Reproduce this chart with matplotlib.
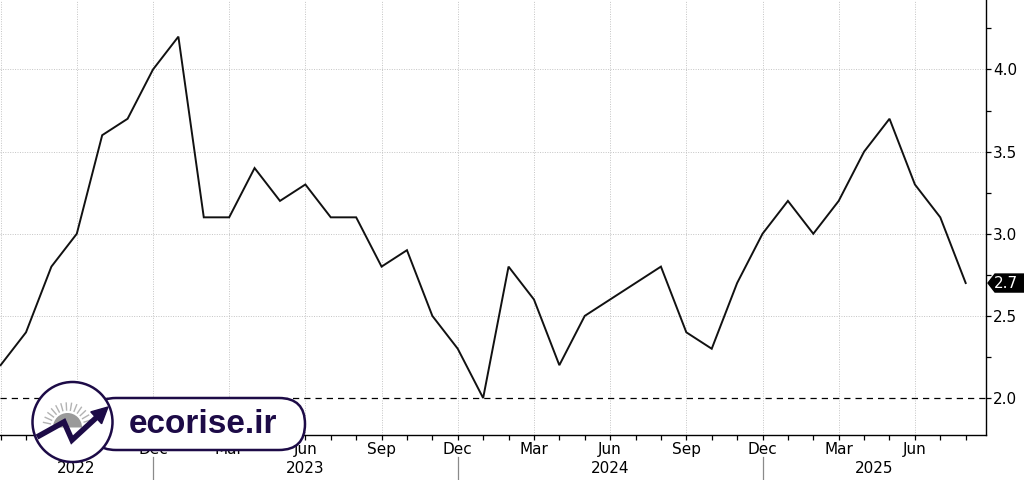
import matplotlib
matplotlib.use("Agg")
import matplotlib.pyplot as plt
import numpy as np
from matplotlib.patches import FancyBboxPatch, Circle, Wedge, Polygon
from matplotlib.ticker import FixedLocator, MultipleLocator

# ---------------- data ----------------
month_abbr = ["Jan", "Feb", "Mar", "Apr", "May", "Jun",
              "Jul", "Aug", "Sep", "Oct", "Nov", "Dec"]
start_year, start_month = 2022, 6          # first observation: Jun 2022
values = [2.2, 2.4, 2.8, 3.0, 3.6, 3.7, 4.0,                     # Jun-Dec 2022
          4.2, 3.1, 3.1, 3.4, 3.2, 3.3, 3.1, 3.1, 2.8, 2.9, 2.5, 2.3,  # 2023
          2.0, 2.8, 2.6, 2.2, 2.5, 2.6, 2.7, 2.8, 2.4, 2.3, 2.7, 3.0,  # 2024
          3.2, 3.0, 3.2, 3.5, 3.7, 3.3, 3.1, 2.7]                  # Jan-Aug 2025
year_labels = ["2022", "2023", "2024", "2025"]
y_ticks = [2.0, 2.5, 3.0, 3.5, 4.0]
y_tick_labels = ["2.0", "2.5", "3.0", "3.5", "4.0"]
reference_level = 2.0
logo_text = "ecorise.ir"

# month bookkeeping
n = len(values)
x = np.arange(n)
mon = [(start_month - 1 + i) % 12 + 1 for i in range(n)]

# ---------------- figure ----------------
W, H = 1024, 480
fig = plt.figure(figsize=(W / 100, H / 100), dpi=100)
fig.patch.set_facecolor("white")
ax = fig.add_axes([0, (H - 434.5) / H, 985.5 / W, 434.5 / H])

xlim = (-0.024, 38.78)
ax.set_xlim(*xlim)
ax.set_ylim(1.778, 4.423)

# grid
quarter_idx = [i for i in range(n) if mon[i] in (3, 6, 9, 12)]
for i in quarter_idx:
    ax.axvline(x[i], color="#c4c4c4", lw=0.7, ls=(0, (1, 1.5)), zorder=1)
for yv in y_ticks:
    if yv != reference_level:
        ax.axhline(yv, color="#c4c4c4", lw=0.7, ls=(0, (1, 1.5)), zorder=1)
ax.axhline(reference_level, color="black", lw=0.9, ls=(0, (5, 4)), zorder=2)

ax.plot(x, values, color="#111111", lw=1.4, zorder=3, solid_joinstyle="miter")

# spines
for s in ("left", "top"):
    ax.spines[s].set_visible(False)
ax.spines["right"].set_linewidth(1.0)
ax.spines["bottom"].set_linewidth(1.0)

# y axis on right
ax.yaxis.tick_right()
ax.yaxis.set_major_locator(FixedLocator(y_ticks))
ax.set_yticklabels(y_tick_labels)
ax.yaxis.set_minor_locator(MultipleLocator(0.25))
ax.tick_params(axis="y", which="both", direction="out", length=3.5, width=0.9,
               labelsize=11, pad=2, colors="black")

# x axis
label_idx = [i for i in quarter_idx if i >= 3]
ax.xaxis.set_major_locator(FixedLocator([x[i] for i in label_idx]))
ax.set_xticklabels([month_abbr[mon[i] - 1] for i in label_idx])
ax.xaxis.set_minor_locator(FixedLocator(list(x)))
ax.tick_params(axis="x", which="both", direction="out", length=3.5, width=0.9,
               labelsize=11, pad=2)

# year separators and year labels
dec_idx = [i for i in range(n) if mon[i] == 12]
bounds = [xlim[0]] + [x[i] for i in dec_idx] + [xlim[1]]
trans = ax.get_xaxis_transform()
for i in dec_idx:
    ax.plot([x[i], x[i]], [-0.052, -0.115], transform=trans, color="#8a8a8a",
            lw=0.9, clip_on=False)
for k, lab in enumerate(year_labels):
    ax.text((bounds[k] + bounds[k + 1]) / 2, -0.078, lab, transform=trans,
            ha="center", va="center", fontsize=11, clip_on=False)

# ---------------- overlay (logo + last value tag) ----------------
ov = fig.add_axes([0, 0, 1, 1], zorder=10)
ov.set_xlim(0, W)
ov.set_ylim(H, 0)
ov.axis("off")
ov.patch.set_alpha(0)

# last value tag
fig.canvas.draw()
ypix = ax.transData.transform((x[-1], values[-1]))[1]
yt = H - ypix
tag = Polygon([(988, yt), (995, yt - 9), (1024, yt - 9), (1024, yt + 9), (995, yt + 9)],
              closed=True, fc="black", ec="black")
ov.add_patch(tag)
ov.text(1006, yt + 0.5, f"{values[-1]:.1f}", color="white", fontsize=11,
        ha="center", va="center")

navy = "#1d0b47"
pill = FancyBboxPatch((90, 398), 215, 52, boxstyle="round,pad=0,rounding_size=26",
                      fc="white", ec=navy, lw=1.8)
ov.add_patch(pill)
circ = Circle((72.5, 422), 40, fc="white", ec=navy, lw=1.8)
ov.add_patch(circ)
# sun
cx, cy = 67.5, 427.5
ov.add_patch(Wedge((cx, cy), 14.5, 180, 360, fc="#9a9a9a", ec="none"))
for a in np.linspace(168, 18, 13):
    r = np.deg2rad(a)
    ov.plot([cx + 17.5 * np.cos(r), cx + 24.5 * np.cos(r)],
            [cy - 17.5 * np.sin(r), cy - 24.5 * np.sin(r)],
            color="#b3b3b3", lw=1.0)
# arrow
ov.plot([37, 64, 72, 97], [437, 422, 440, 417], color=navy, lw=4.0,
        solid_joinstyle="miter", solid_capstyle="butt")
ov.add_patch(Polygon([(108, 407), (101.6, 423.7), (90.8, 411.9)], closed=True,
                     fc=navy, ec=navy))
ov.text(202.5, 433, logo_text, family="Liberation Sans", fontweight="bold",
        fontsize=24, color=navy, ha="center", va="baseline")

fig.savefig("out.png", dpi=100, facecolor="white")
